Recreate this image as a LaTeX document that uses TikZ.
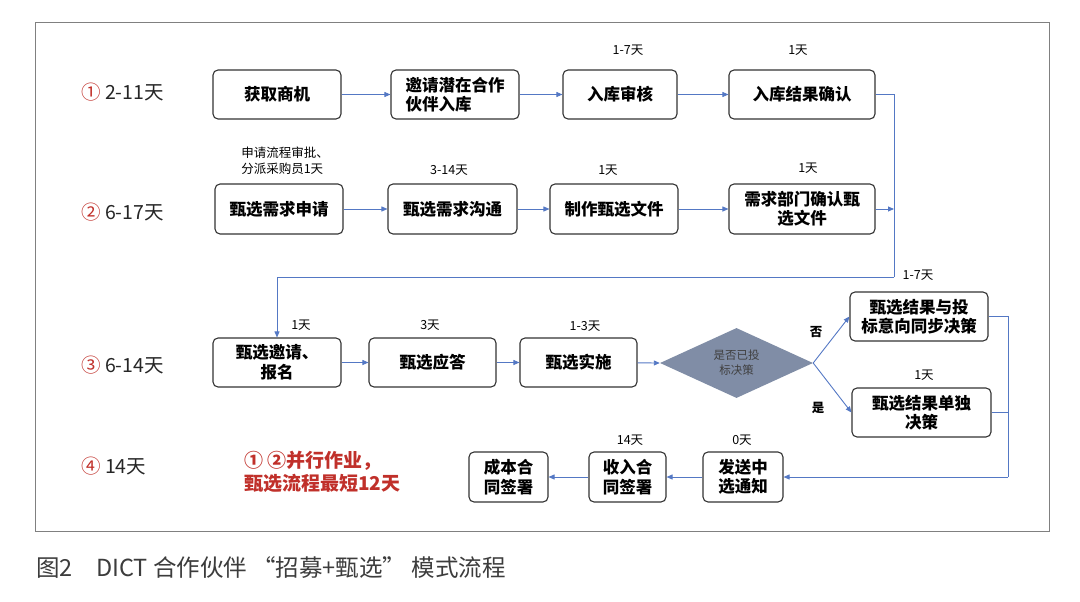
\documentclass[tikz,border=0pt]{standalone}
\usepackage{fontspec}
\setmainfont{Noto Sans CJK SC}
\usetikzlibrary{arrows.meta,shapes.geometric}
\definecolor{arrowblue}{RGB}{84,120,196}
\definecolor{boxline}{RGB}{50,50,50}
\definecolor{noteRed}{RGB}{192,48,42}
\definecolor{diaFill}{RGB}{128,141,166}
\definecolor{capGray}{RGB}{60,60,60}
\begin{document}
\begin{tikzpicture}[x=1pt,y=-1pt,
  stepbox/.style={draw=boxline,line width=1.1pt,rounded corners=5pt,align=center,inner sep=0pt,
     font=\fontsize{16.5}{19.5}\selectfont\bfseries,text=black},
  daylab/.style={font=\fontsize{12.5}{15}\selectfont,text=black,inner sep=0pt},
  rowlab/.style={font=\fontsize{19.5}{22}\selectfont,text=black!85,inner sep=0pt,anchor=west},
  conn/.style={draw=arrowblue,line width=0.9pt},
  ar/.style={conn,-{Triangle[length=6pt,width=5pt]}}]
\useasboundingbox (0,0) rectangle (1080,602);
\draw[draw=black!50,line width=0.9pt] (35,22) rectangle (1049,531);

% row labels
\node[rowlab] (l1) at (81,92) {\textcolor{noteRed}{①} 2-11天};
\node[rowlab] (l2) at (81,212) {\textcolor{noteRed}{②} 6-17天};
\node[rowlab] (l3) at (81,365) {\textcolor{noteRed}{③} 6-14天};
\node[rowlab] (l4) at (81,466) {\textcolor{noteRed}{④} 14天};

% row 1
\node[stepbox,minimum width=128pt,minimum height=49pt] (a1) at (277,94.5) {获取商机};
\node[stepbox,minimum width=128pt,minimum height=49pt,align=left] (a2) at (455,94.5) {邀请潜在合作\\伙伴入库};
\node[stepbox,minimum width=114pt,minimum height=49pt] (a3) at (620,94.5) {入库审核};
\node[stepbox,minimum width=146pt,minimum height=49pt] (a4) at (802,94.5) {入库结果确认};
\node[daylab] (t3) at (628,50) {1-7天};
\node[daylab] (t4) at (798,50) {1天};

% row 2
\node[stepbox,minimum width=128pt,minimum height=50pt] (b1) at (279,209) {甄选需求申请};
\node[stepbox,minimum width=129pt,minimum height=50pt] (b2) at (452.5,209) {甄选需求沟通};
\node[stepbox,minimum width=128pt,minimum height=50pt] (b3) at (614,209) {制作甄选文件};
\node[stepbox,minimum width=146pt,minimum height=50pt] (b4) at (802,209) {需求部门确认甄\\选文件};
\node[daylab,align=left,font=\fontsize{12.5}{16}\selectfont] (s1) at (285,161) {申请流程审批、\\分派采购员1天};
\node[daylab] (s2) at (449,170) {3-14天};
\node[daylab] (s3) at (608,170) {1天};
\node[daylab] (s4) at (808,168) {1天};

% row 3
\node[stepbox,minimum width=128pt,minimum height=49pt] (c1) at (277,362.5) {甄选邀请、\\报名};
\node[stepbox,minimum width=127pt,minimum height=49pt] (c2) at (432.5,362.5) {甄选应答};
\node[stepbox,minimum width=117pt,minimum height=49pt] (c3) at (578.5,362.5) {甄选实施};
\node[diamond,fill=diaFill,draw=none,minimum width=153pt,minimum height=70pt,aspect=2.2,inner sep=0pt,
  align=center,font=\fontsize{11.5}{15}\selectfont,text=black!75] (dia) at (736.5,363) {是否已投\\标决策};
\node[stepbox,minimum width=138pt,minimum height=49pt] (d1) at (919,316.5) {甄选结果与投\\标意向同步决策};
\node[stepbox,minimum width=139pt,minimum height=49pt] (d2) at (921.5,412.5) {甄选结果单独\\决策};
\node[daylab] (u1) at (301,325) {1天};
\node[daylab] (u2) at (430,325) {3天};
\node[daylab] (u3) at (585,326) {1-3天};
\node[daylab] (u4) at (918,275) {1-7天};
\node[daylab] (u5) at (924,375) {1天};
\node[daylab,font=\fontsize{12.5}{15}\selectfont\bfseries] (no) at (816,332) {否};
\node[daylab,font=\fontsize{12.5}{15}\selectfont\bfseries] (yes) at (818,408) {是};

% row 4
\node[stepbox,minimum width=80pt,minimum height=50pt] (e1) at (743,477) {发送中\\选通知};
\node[stepbox,minimum width=77pt,minimum height=50pt] (e2) at (627.5,477) {收入合\\同签署};
\node[stepbox,minimum width=79pt,minimum height=50pt] (e3) at (508.5,477) {成本合\\同签署};
\node[daylab] (v2) at (630,440) {14天};
\node[daylab] (v1) at (742,440) {0天};
\node[align=left,inner sep=0pt,anchor=west,text=noteRed,font=\fontsize{19}{23}\selectfont\bfseries] (note) at (244,471.5) {① ②并行作业，\\甄选流程最短12天};

% caption
\node[anchor=west,inner sep=0pt,text=capGray,font=\fontsize{23.5}{27}\selectfont] (cap) at (36,568) {图2\quad DICT 合作伙伴 “招募+甄选” 模式流程};

% connectors
\coordinate (j1) at (894,277);
\coordinate (j2) at (1008,477);
\draw[ar] (a1) -- (a2);
\draw[ar] (a2) -- (a3);
\draw[ar] (a3) -- (a4);
\draw[ar] (b1) -- (b2);
\draw[ar] (b2) -- (b3);
\draw[ar] (b3) -- (b4);
\draw[conn] (a4.east) -| (j1);
\draw[ar] (b4.east) -- (b4.east -| j1);
\draw[ar] (j1) -| (c1.north);
\draw[ar] (c1) -- (c2);
\draw[ar] (c2) -- (c3);
\draw[ar] (c3) -- (dia.west);
\draw[ar] (dia.east) -- (d1.west);
\draw[ar] (dia.east) -- (d2.west);
\draw[conn] (d1.east) -| (j2);
\draw[conn] (d2.east) -- (d2.east -| j2);
\draw[ar] (j2) -- (e1.east);
\draw[ar] (e1) -- (e2);
\draw[ar] (e2) -- (e3);
\end{tikzpicture}
\end{document}
